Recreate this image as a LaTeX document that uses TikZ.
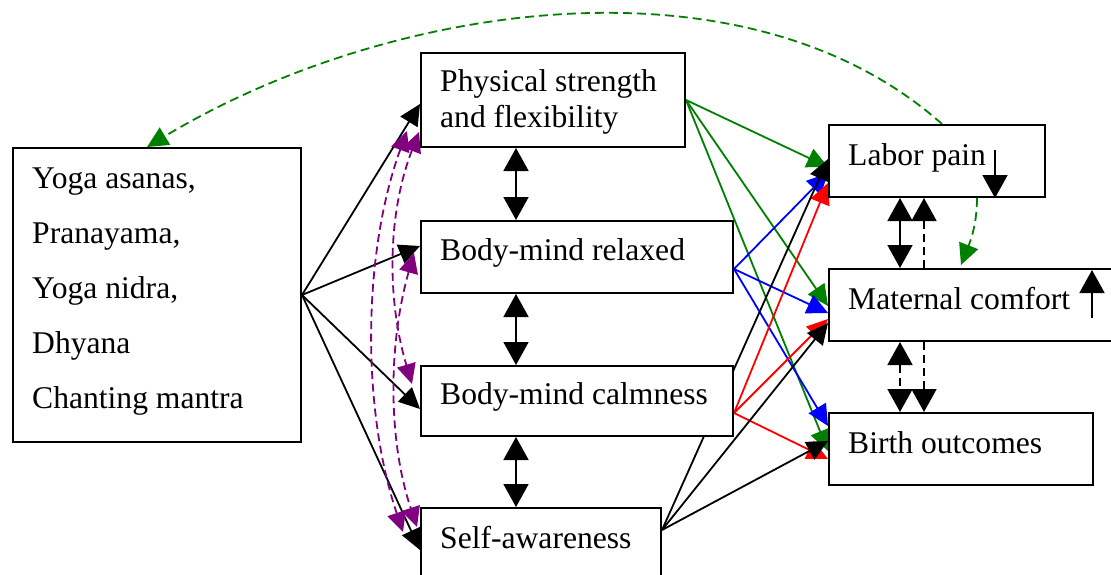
\documentclass[tikz,border=0pt]{standalone}
\usepackage{fontspec}
\setmainfont{Liberation Serif}
\usetikzlibrary{arrows.meta,calc}
\pgfdeclarelayer{bg}
\pgfsetlayers{bg,main}
\definecolor{dgreen}{RGB}{0,128,0}
\definecolor{purp}{RGB}{128,0,128}
\begin{document}
\begin{tikzpicture}[x=1pt,y=-1pt,
  box/.style={draw,line width=2pt,fill=white,rectangle,inner sep=0pt,anchor=north west},
  lbl/.style={anchor=base west,inner sep=0pt,font=\fontsize{31.6}{38}\selectfont},
  con/.style={line width=1.8pt},
  tipend/.style={-{Triangle[length=21pt,width=20pt]}},
  vboth/.style={{Triangle[length=23pt,width=25pt]}-{Triangle[length=23pt,width=25pt]}},
  vend/.style={-{Triangle[length=23pt,width=25pt]}},
  pboth/.style={{Triangle[length=20pt,width=19pt]}-{Triangle[length=20pt,width=19pt]}},
  gdash/.style={dash pattern=on 9pt off 5pt},
  pdash/.style={dash pattern=on 8pt off 4.5pt},
  kdash/.style={dash pattern=on 8pt off 5pt}
]
\useasboundingbox (0,0) rectangle (1111,575);

% boxes
\node[box,minimum width=288pt,minimum height=294pt] (yoga) at (12,147) {};
\node[box,minimum width=264pt,minimum height=94pt] (phys) at (420,52) {};
\node[box,minimum width=312pt,minimum height=72pt] (relax) at (420,220) {};
\node[box,minimum width=312pt,minimum height=70pt] (calm) at (420,365) {};
\node[box,minimum width=240pt,minimum height=90pt] (self) at (420,507) {};
\node[box,minimum width=216pt,minimum height=72pt] (labor) at (828,124) {};
\node[box,minimum width=290pt,minimum height=72pt] (mat) at (828,268) {};
\node[box,minimum width=264pt,minimum height=72pt] (birth) at (828,412) {};

% texts
\node[lbl] (yt1) at (32,188) {Yoga asanas,};
\node[lbl] (yt2) at (32,243) {Pranayama,};
\node[lbl] (yt3) at (32,298) {Yoga nidra,};
\node[lbl] (yt4) at (32,353) {Dhyana};
\node[lbl] (yt5) at (32,408) {Chanting mantra};
\node[lbl] (pt1) at (440,92) {Physical strength};
\node[lbl] (pt2) at (440,128) {and flexibility};
\node[lbl] (rt) at (440,260) {Body-mind relaxed};
\node[lbl] (ct) at (440,404) {Body-mind calmness};
\node[lbl] (st) at (440,548) {Self-awareness};
\node[lbl] (lt) at (848,165) {Labor pain};
\node[lbl] (mt) at (848,309) {Maternal comfort};
\node[lbl] (bt) at (848,453) {Birth outcomes};

\coordinate (ldn) at (995,150);
\coordinate (mup) at (1092,318);

% small arrows inside boxes
\draw[con,vend] (ldn) -- ($(labor.south west)+(167,0)$);
\draw[con,vend] (mup) -- ($(mat.north west)+(264,2)$);

\begin{pgfonlayer}{bg}
% fan from yoga
\draw[con,tipend] (yoga.east) -- ($(phys.west)+(0,4)$);
\draw[con,tipend] (yoga.east) -- ($(relax.west)+(0,-11)$);
\draw[con,tipend] (yoga.east) -- ($(calm.west)+(0,8)$);
\draw[con,tipend] (yoga.east) -- ($(self.north west)+(0,43)$);

% purple dashed arcs
\draw[con,purp,pdash,pboth] ($(phys.south west)+(-13,-17)$) .. controls (362,255) and (362,410) .. ($(self.north west)+(-17,25)$);
\draw[con,purp,pdash,pboth] ($(phys.south west)+(-1,-16)$) .. controls (387,215) and (387,300) .. ($(calm.west)+(-8,-17)$);
\draw[con,purp,pdash,pboth] ($(relax.west)+(-6,-4)$) .. controls (388,345) and (388,440) .. ($(self.north west)+(-3,20)$);

% middle vertical double arrows
\draw[con,vboth] ($(phys.south west)+(96,0)$) -- ($(relax.north west)+(96,0)$);
\draw[con,vboth] ($(relax.south west)+(96,0)$) -- ($(calm.north west)+(96,0)$);
\draw[con,vboth] ($(calm.south west)+(96,0)$) -- ($(self.north west)+(96,0)$);

% green from physical
\draw[con,dgreen,tipend] (phys.east) -- ($(labor.west)+(0,6)$);
\draw[con,dgreen,tipend] (phys.east) -- ($(mat.west)+(0,1)$);
\draw[con,dgreen,tipend] (phys.east) -- ($(birth.west)+(0,2)$);
% blue from relaxed
\draw[con,blue,tipend] ($(relax.east)+(0,12)$) -- ($(labor.west)+(0,12)$);
\draw[con,blue,tipend] ($(relax.east)+(0,12)$) -- ($(mat.west)+(0,8)$);
\draw[con,blue,tipend] ($(relax.east)+(0,12)$) -- ($(birth.west)+(0,-23)$);
% red from calmness
\draw[con,red,tipend] ($(calm.east)+(0,12)$) -- ($(labor.west)+(0,22)$);
\draw[con,red,tipend] ($(calm.east)+(0,12)$) -- ($(mat.west)+(0,14)$);
\draw[con,red,tipend] ($(calm.east)+(0,12)$) -- ($(birth.west)+(0,10)$);
% black from self-awareness
\draw[con,tipend] ($(self.north east)+(0,23)$) -- ($(labor.west)+(0,-2)$);
\draw[con,tipend] ($(self.north east)+(0,23)$) -- ($(mat.west)+(0,18)$);
\draw[con,tipend] ($(self.north east)+(0,23)$) -- ($(birth.west)+(0,-8)$);

% right verticals
\draw[con,vboth] ($(labor.south west)+(72,0)$) -- ($(mat.north west)+(72,0)$);
\draw[con,kdash,vend] ($(mat.north west)+(96,0)$) -- ($(labor.south west)+(96,0)$);
\draw[con,kdash,vboth] ($(mat.south west)+(72,0)$) -- ($(birth.north west)+(72,0)$);
\draw[con,kdash,vend] ($(mat.south west)+(96,0)$) -- ($(birth.north west)+(96,0)$);

% green dashed curves
\draw[con,dgreen,gdash,tipend] ($(labor.south west)+(149,0)$) .. controls (977,225) and (970,242) .. ($(mat.north west)+(133,-3)$);
\draw[con,dgreen,gdash,tipend] ($(labor.north west)+(114,0)$) .. controls (744,-52) and (386,3) .. ($(yoga.north west)+(135,0)$);
\end{pgfonlayer}
\end{tikzpicture}
\end{document}
